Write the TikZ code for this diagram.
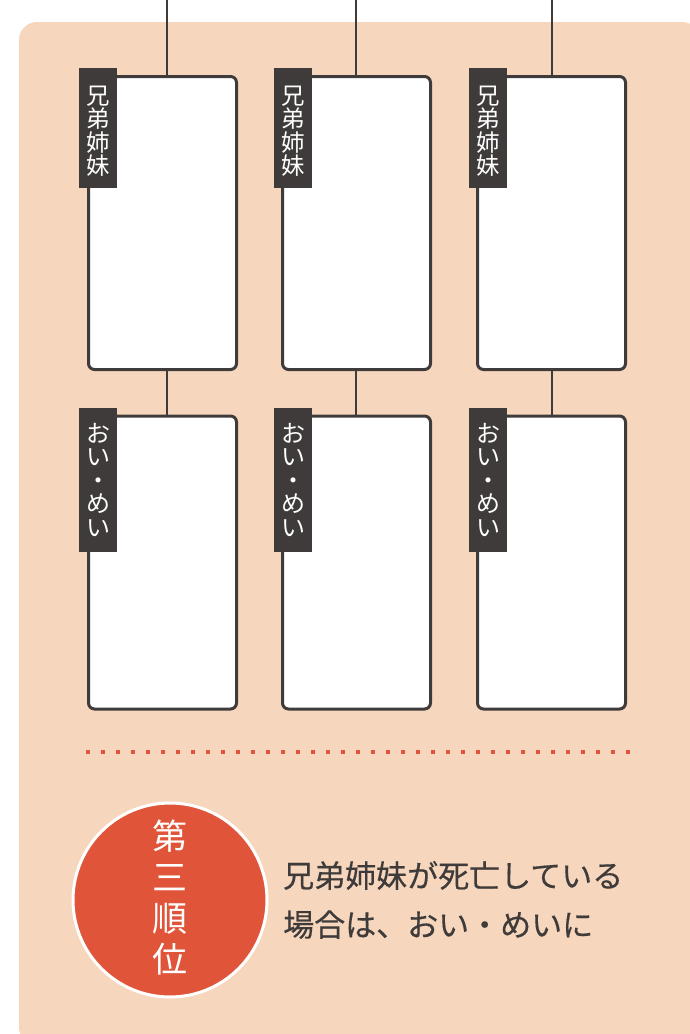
\documentclass[tikz,border=0pt]{standalone}
\usepackage{fontspec}
\setmainfont{Noto Sans CJK JP}
\newfontfamily\cjk{Noto Sans CJK JP}
\newfontfamily\cjkm[FakeBold=0.4]{Noto Sans CJK JP}
\definecolor{bgpeach}{HTML}{F6D7BD}
\definecolor{darkg}{HTML}{3F3B3A}
\definecolor{accent}{HTML}{E0553A}
\tikzset{
  card/.style={draw=darkg, fill=white, line width=3pt, rounded corners=6pt, minimum width=148pt, minimum height=293pt, inner sep=0pt},
  tag/.style={fill=darkg, text=white, inner sep=0pt, minimum width=38pt, align=center, font=\cjk\fontsize{23.5}{23.5}\selectfont},
  link/.style={draw=darkg, line width=1.6pt},
}
\begin{document}
\begin{tikzpicture}[x=1pt,y=-1pt]
\useasboundingbox (0,0) rectangle (689,1034);
\fill[bgpeach, rounded corners=18pt] (19,22) rectangle (700,1045);
% cards row 1
\node[card] (b1) at (162.5,223) {};
\node[card] (b2) at (356.5,223) {};
\node[card] (b3) at (551.5,223) {};
% cards row 2
\node[card] (c1) at (162.5,562.5) {};
\node[card] (c2) at (356.5,562.5) {};
\node[card] (c3) at (551.5,562.5) {};
% top coordinates
\coordinate (t1) at (167,0);
\coordinate (t2) at (356,0);
\coordinate (t3) at (552,0);
\draw[link] (t1) -- (t1 |- b1.north);
\draw[link] (t2) -- (t2 |- b2.north);
\draw[link] (t3) -- (t3 |- b3.north);
\draw[link] (t1 |- b1.south) -- (t1 |- c1.north);
\draw[link] (t2 |- b2.south) -- (t2 |- c2.north);
\draw[link] (t3 |- b3.south) -- (t3 |- c3.north);
% labels
\node[tag, minimum height=120pt] (l1) at (98,128) {};
\node[tag, minimum height=120pt] (l2) at (293,128) {};
\node[tag, minimum height=120pt] (l3) at (488,128) {};
\node[tag, inner sep=0pt] (lt1) at (98,131) {兄\\弟\\姉\\妹};
\node[tag, inner sep=0pt] (lt2) at (293,131) {兄\\弟\\姉\\妹};
\node[tag, inner sep=0pt] (lt3) at (488,131) {兄\\弟\\姉\\妹};
\node[tag, minimum height=144pt, font=\cjk\fontsize{24}{23.5}\selectfont] (m1) at (98,480) {お\\い\\・\\め\\い};
\node[tag, minimum height=144pt, font=\cjk\fontsize{24}{23.5}\selectfont] (m2) at (293,480) {お\\い\\・\\め\\い};
\node[tag, minimum height=144pt, font=\cjk\fontsize{24}{23.5}\selectfont] (m3) at (488,480) {お\\い\\・\\め\\い};
% dotted separator
\coordinate (d1) at (86,752);
\coordinate (d2) at (634,752);
\draw[accent, line width=4pt, dash pattern=on 4pt off 11pt] (d1) -- (d2);
% circle
\node[circle, fill=accent, draw=white, line width=3pt, minimum size=194pt, inner sep=0pt] (circ) at (170,900) {};
\node[text=white, align=center, font=\cjk\fontsize{35}{41}\selectfont, inner sep=0pt] (rank) at (170,898) {第\\三\\順\\位};
% description
\node[anchor=west, text=darkg, align=left, font=\cjkm\fontsize{31}{49}\selectfont, inner sep=0pt] (desc) at (283,900) {兄弟姉妹が死亡している\\場合は、おい・めいに};
\end{tikzpicture}
\end{document}
